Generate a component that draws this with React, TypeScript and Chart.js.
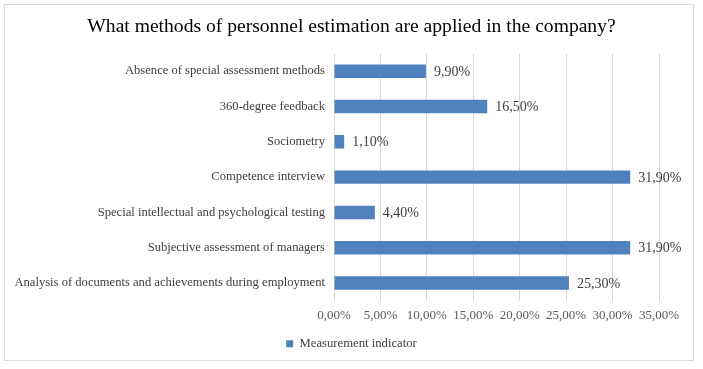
import React, { useEffect, useRef } from "react";
import { Chart, registerables } from "chart.js";

Chart.register(...registerables);

const TITLE = "What methods of personnel estimation are applied in the company?";
const CATEGORIES = [
  "Absence of special assessment methods",
  "360-degree feedback",
  "Sociometry",
  "Competence interview",
  "Special intellectual and psychological testing",
  "Subjective assessment of managers",
  "Analysis of documents and achievements during employment",
];
const VALUES = [9.9, 16.5, 1.1, 31.9, 4.4, 31.9, 25.3];
const SERIES_NAME = "Measurement indicator";
const X_MIN = 0;
const X_MAX = 35;
const X_STEP = 5;

const FONT = "'Liberation Serif', 'Times New Roman', serif";
const fmt = (v: number) => v.toFixed(2).replace(".", ",") + "%";

const frameAndLabels = {
  id: "frameAndLabels",
  beforeDraw(chart: any) {
    const ctx = chart.ctx;
    ctx.save();
    ctx.fillStyle = "#ffffff";
    ctx.fillRect(0, 0, chart.width, chart.height);
    ctx.strokeStyle = "#d9d9d9";
    ctx.lineWidth = 1;
    ctx.strokeRect(4.5, 4.5, 689, 356);
    ctx.restore();
  },
  afterDatasetsDraw(chart: any) {
    const ctx = chart.ctx;
    const meta = chart.getDatasetMeta(0);
    const data = chart.data.datasets[0].data as number[];
    ctx.save();
    ctx.font = `14px ${FONT}`;
    ctx.fillStyle = "#404040";
    ctx.textAlign = "left";
    ctx.textBaseline = "middle";
    meta.data.forEach((bar: any, i: number) => {
      ctx.fillText(fmt(data[i]), bar.x + 8, bar.y + 1);
    });
    ctx.restore();
  },
};

export default function App() {
  const ref = useRef<HTMLCanvasElement | null>(null);
  useEffect(() => {
    if (!ref.current) return;
    const chart = new Chart(ref.current, {
      type: "bar",
      data: {
        labels: CATEGORIES,
        datasets: [
          {
            label: SERIES_NAME,
            data: VALUES,
            backgroundColor: "#4F81BD",
            borderWidth: 0,
            categoryPercentage: 1,
            barPercentage: 0.38,
          },
        ],
      },
      options: {
        indexAxis: "y",
        animation: false,
        responsive: false,
        maintainAspectRatio: false,
        layout: { padding: { top: 5, left: 0, right: 0, bottom: 9 } },
        plugins: {
          title: {
            display: true,
            text: TITLE,
            color: "#000000",
            font: { family: FONT, size: 19.6, weight: "normal" },
            padding: { top: 10, bottom: 15 },
          },
          legend: {
            display: true,
            position: "bottom",
            labels: {
              boxWidth: 7,
              boxHeight: 7,
              padding: 7,
              color: "#404040",
              font: { family: FONT, size: 12.7 },
            },
          },
          tooltip: { enabled: false },
        },
        scales: {
          x: {
            type: "linear",
            position: "bottom",
            min: X_MIN,
            max: X_MAX,
            grid: { color: "#d9d9d9", drawTicks: false },
            border: { display: false },
            ticks: {
              stepSize: X_STEP,
              padding: 7,
              color: "#595959",
              font: { family: FONT, size: 13 },
              callback: (v: any) => fmt(Number(v)),
            },
          },
          y: {
            type: "category",
            position: "left",
            grid: { display: false, drawTicks: false },
            border: { display: false },
            ticks: {
              padding: 9,
              color: "#404040",
              font: { family: FONT, size: 12.6 },
            },
            afterFit: (s: any) => {
              s.width = 334;
            },
          },
          yRight: {
            type: "linear",
            position: "right",
            display: true,
            grid: { display: false, drawTicks: false },
            border: { display: false },
            ticks: { display: false },
            afterFit: (s: any) => {
              s.width = 44;
            },
          },
        },
      },
      plugins: [frameAndLabels],
    });
    return () => chart.destroy();
  }, []);
  return (
    <div style={{ position: "absolute", left: 0, top: 0, width: 703, height: 369 }}>
      <canvas ref={ref} width={703} height={369} style={{ width: 703, height: 369 }} />
    </div>
  );
}
